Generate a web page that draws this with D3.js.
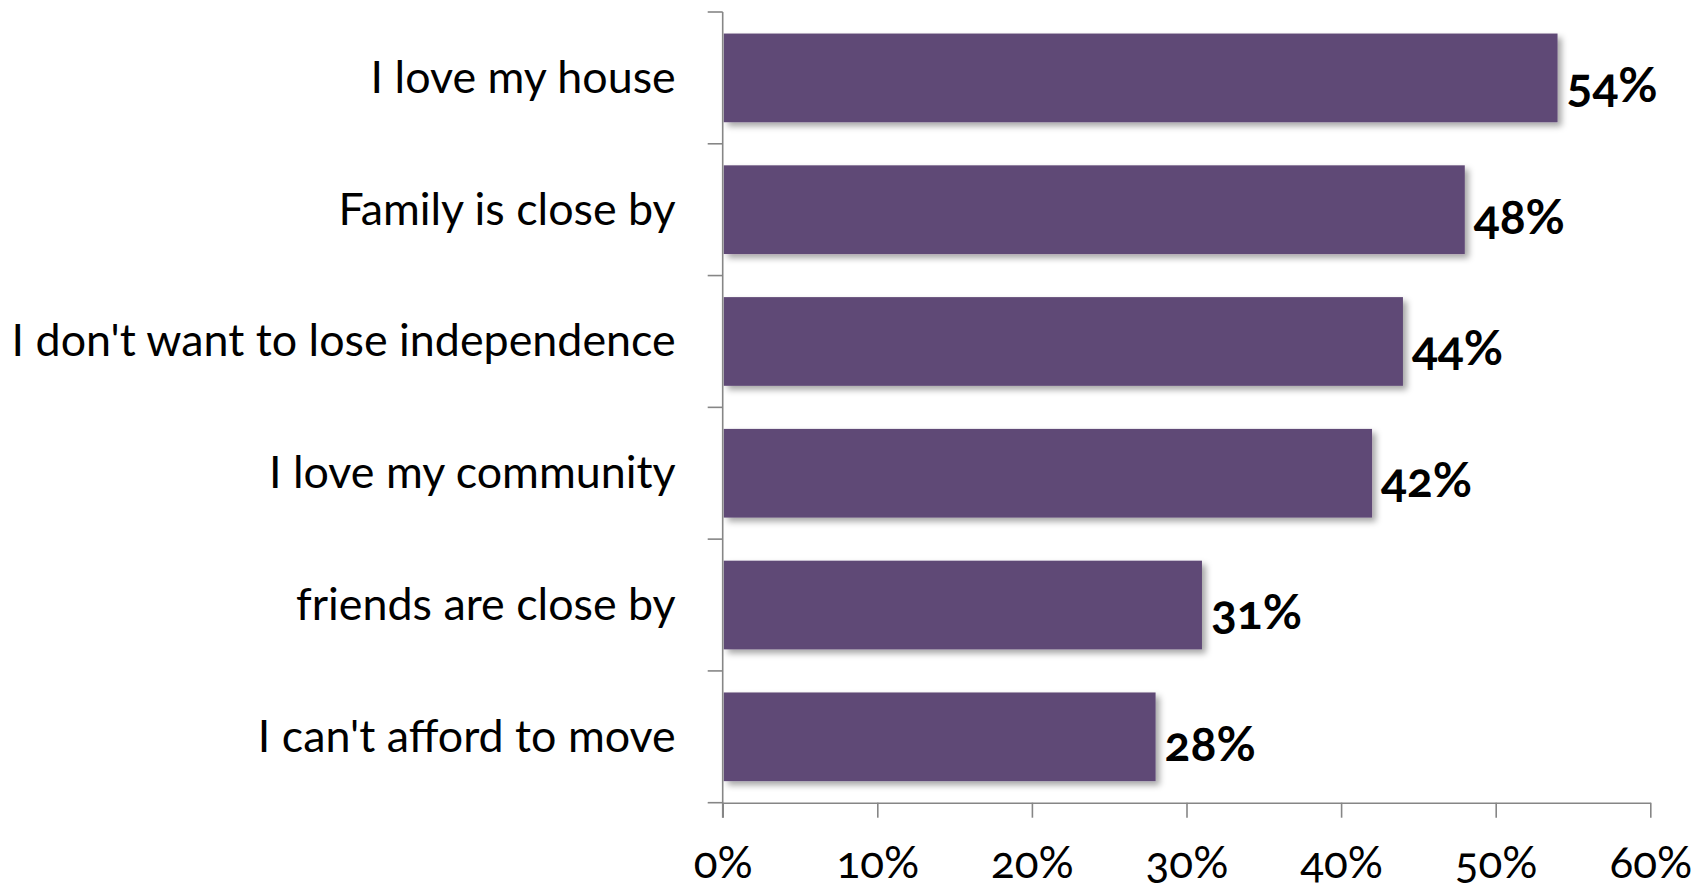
<!DOCTYPE html>
<html>
<head>
<meta charset="utf-8">
<script src="https://cdn.jsdelivr.net/npm/d3@7"></script>
<style>
  html, body { margin: 0; padding: 0; background: #ffffff; }
  svg { display: block; }
  .cat { font-family: Lato, "Open Sans", sans-serif; font-size: 44.8px; fill: #000; }
  .val { font-family: Lato, "Open Sans", sans-serif; font-weight: 700; font-size: 48px; fill: #000; font-variant-numeric: oldstyle-nums; }
  .tick-label { font-family: Lato, "Open Sans", sans-serif; font-size: 44px; fill: #000; font-variant-numeric: oldstyle-nums; }
</style>
</head>
<body>
<script>
// Reasons respondents give for staying in their home
const categories = [
  "I love my house",
  "Family is close by",
  "I don't want to lose independence",
  "I love my community",
  "friends are close by",
  "I can't afford to move"
];
const values = [54, 48, 44, 42, 31, 28];
const tickValues = [0, 10, 20, 30, 40, 50, 60];
const tickLabels = ["0%", "10%", "20%", "30%", "40%", "50%", "60%"];

const W = 1707, H = 888;
const plot = { left: 722.7, right: 1650.3, top: 12, bottom: 802.7 };
const barColor = "#5f4876";
const axisColor = "#868686";

const svg = d3.select("body").append("svg")
  .attr("width", W).attr("height", H);

// soft drop shadow under each bar
const defs = svg.append("defs");
const f = defs.append("filter").attr("id", "barShadow")
  .attr("x", "-5%").attr("y", "-20%").attr("width", "115%").attr("height", "150%");
f.append("feDropShadow")
  .attr("dx", 4).attr("dy", 4).attr("stdDeviation", 3)
  .attr("flood-color", "#000").attr("flood-opacity", 0.35);

const x = d3.scaleLinear().domain([0, 60]).range([plot.left, plot.right]);
const y = d3.scaleBand().domain(categories)
  .range([plot.top, plot.bottom])
  .paddingInner(0.327).paddingOuter(0.1635);

// bars
svg.append("g").selectAll("rect")
  .data(values)
  .join("rect")
  .attr("x", x(0) + 1)
  .attr("y", (d, i) => y(categories[i]))
  .attr("width", d => x(d) - x(0) - 1)
  .attr("height", y.bandwidth())
  .attr("fill", barColor)
  .attr("filter", "url(#barShadow)");

// value labels at the end of each bar
svg.append("g").selectAll("text")
  .data(values)
  .join("text")
  .attr("class", "val")
  .attr("x", d => x(d) + 9)
  .attr("y", (d, i) => y(categories[i]) + y.bandwidth() / 2 + 24)
  .text(d => d + "%");

// category axis: band boundaries as tick marks
const bandEdges = d3.range(categories.length + 1)
  .map(i => plot.top + i * (plot.bottom - plot.top) / categories.length);
const yAxisG = svg.append("g");
yAxisG.append("line")
  .attr("x1", plot.left).attr("x2", plot.left)
  .attr("y1", plot.top).attr("y2", plot.bottom + 15)
  .attr("stroke", axisColor).attr("stroke-width", 1.6);
yAxisG.selectAll("line.tk")
  .data(bandEdges)
  .join("line")
  .attr("class", "tk")
  .attr("x1", plot.left - 15).attr("x2", plot.left)
  .attr("y1", d => d).attr("y2", d => d)
  .attr("stroke", axisColor).attr("stroke-width", 1.6);
yAxisG.selectAll("text")
  .data(categories)
  .join("text")
  .attr("class", "cat")
  .attr("x", plot.left - 47)
  .attr("y", d => y(d) + y.bandwidth() / 2 + 15)
  .attr("text-anchor", "end")
  .text(d => d);

// value axis along the bottom
const xAxis = d3.axisBottom(x)
  .tickValues(tickValues)
  .tickSize(15)
  .tickSizeOuter(0)
  .tickPadding(29)
  .tickFormat((d, i) => tickLabels[i]);
const xAxisG = svg.append("g")
  .attr("transform", `translate(0,${plot.bottom})`)
  .call(xAxis);
xAxisG.select(".domain").attr("stroke", axisColor).attr("stroke-width", 1.6);
xAxisG.selectAll(".tick line").attr("stroke", axisColor).attr("stroke-width", 1.6);
xAxisG.selectAll(".tick text")
  .attr("class", "tick-label")
  .attr("font-family", null).attr("font-size", null)
  .attr("fill", "#000");
</script>
</body>
</html>
